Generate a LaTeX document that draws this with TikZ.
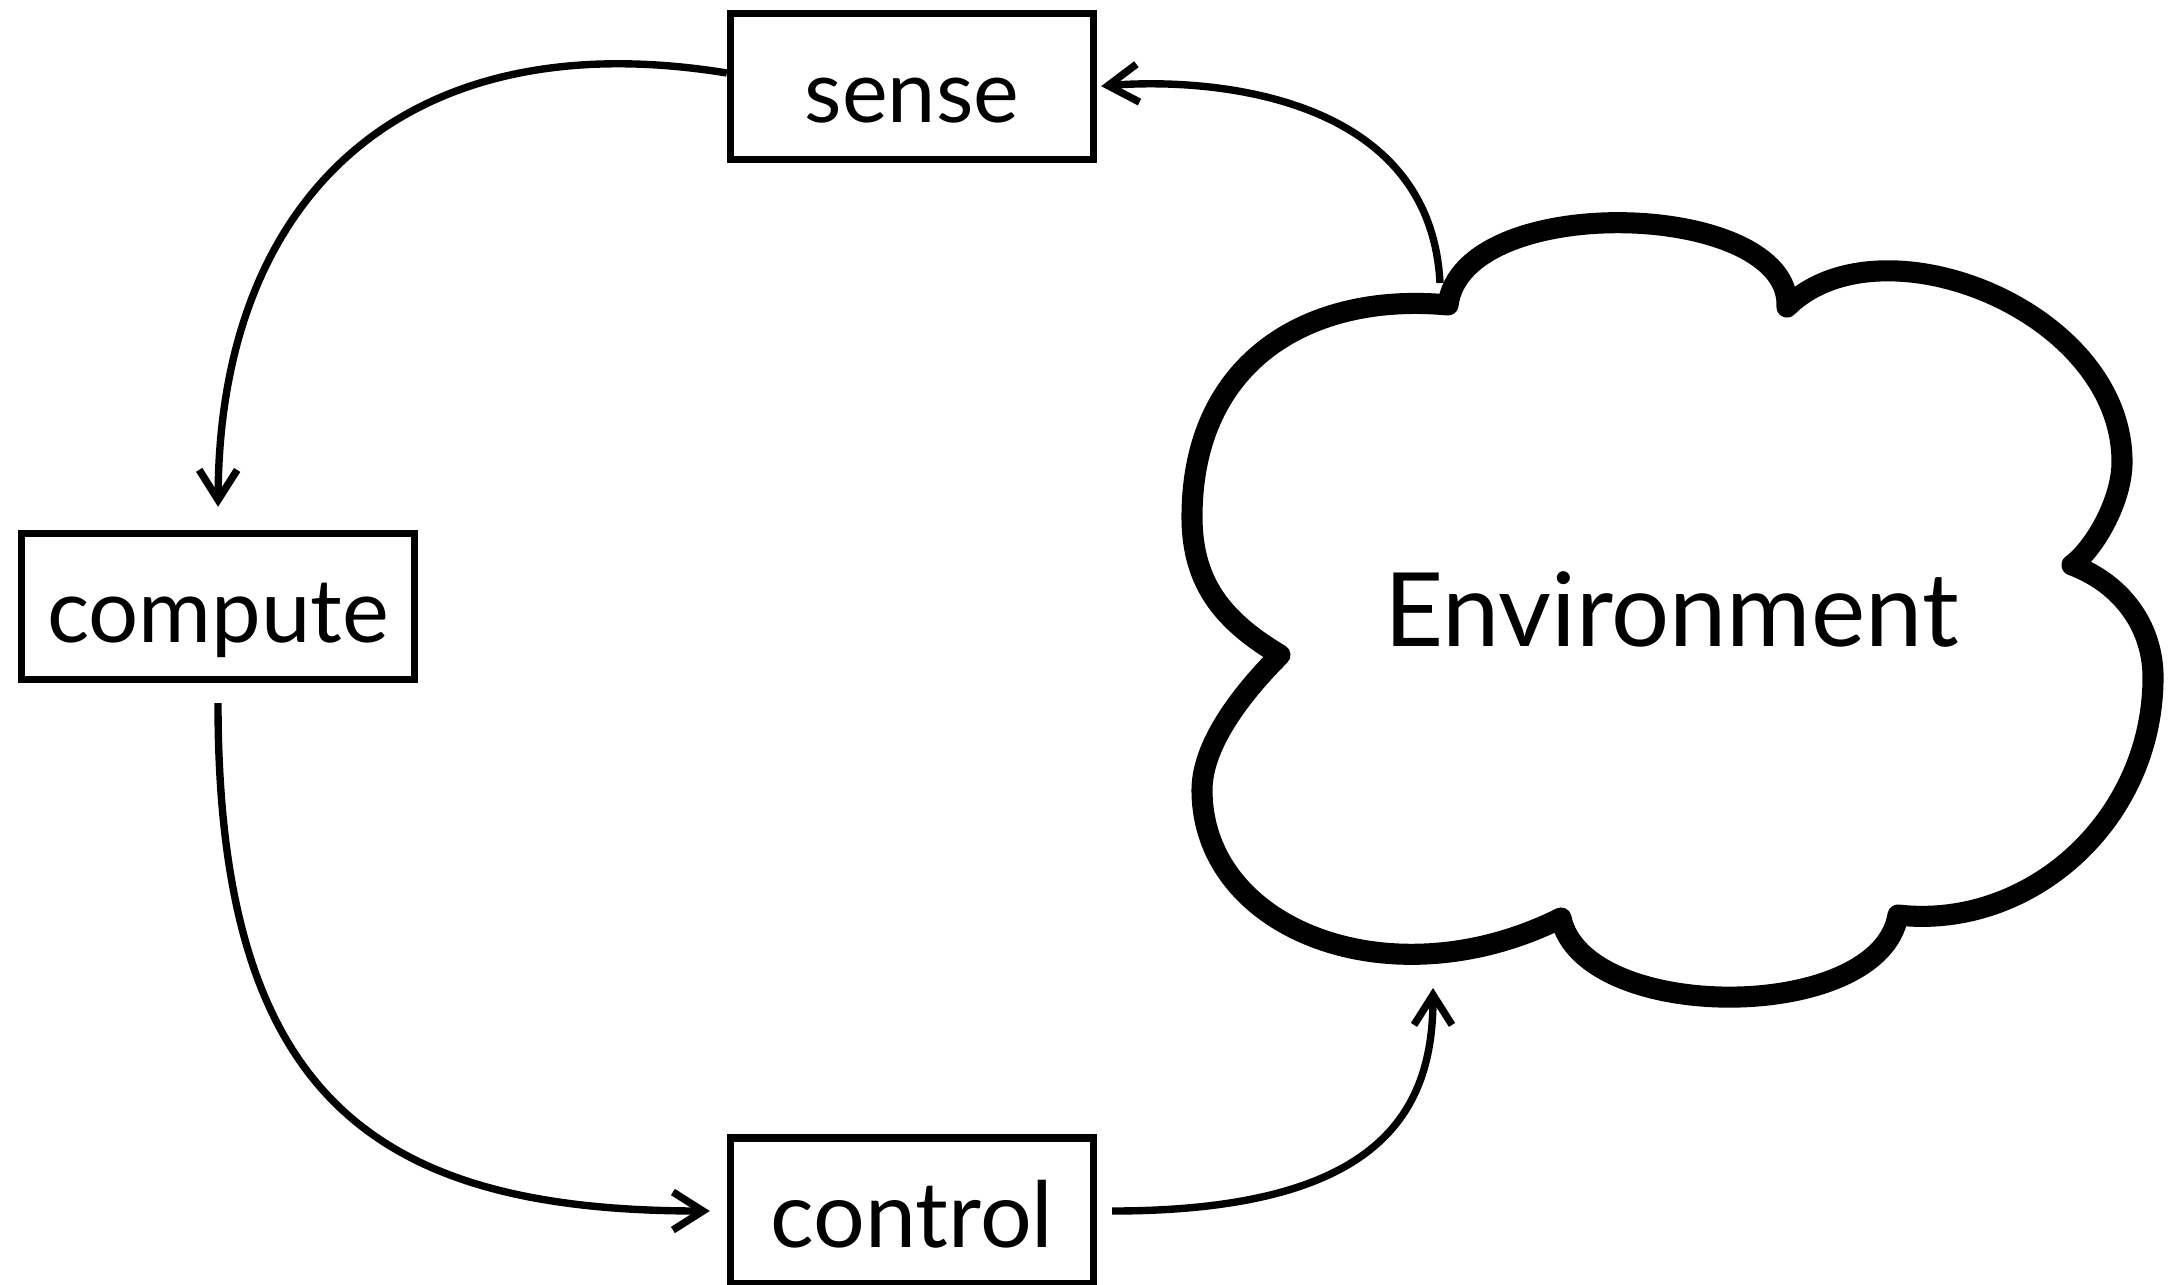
\documentclass[tikz,border=0pt]{standalone}
\usepackage{fontspec}
\setmainfont{Lato}
\usetikzlibrary{positioning,arrows.meta}

\tikzset{
  stage/.style={draw=black,line width=2.1pt,minimum width=3.63cm,minimum height=1.46cm,text height=0.9cm,text depth=0.18cm,inner sep=0pt},
  flow/.style={line width=2.1pt,-{Straight Barb[length=0.3cm,width=0.38cm]}},
}

\begin{document}
\begin{tikzpicture}
	\useasboundingbox (0,0) rectangle (21.71,-12.85);
	\node[stage] (sense) at (9.12,-0.865) {\fontsize{24.6}{27}\selectfont sense};
	\node[stage,minimum width=3.93cm] (compute) at (2.18,-6.065) {\fontsize{25.2}{27}\selectfont compute};
	\node[stage] (control) at (9.12,-12.11) {\fontsize{26}{28}\selectfont control};
	
	% the environment cloud
	\draw[line width=6pt,line join=round] (14.48,-3.05)
		.. controls (14.62,-1.90) and (17.92,-2.00) .. (17.87,-3.07)
		.. controls (18.80,-2.15) and (21.22,-3.10) .. (21.22,-4.62)
		.. controls (21.22,-5.00) and (20.95,-5.48) .. (20.72,-5.65)
		.. controls (21.25,-5.85) and (21.53,-6.30) .. (21.53,-6.77)
		.. controls (21.53,-8.20) and (20.30,-9.30) .. (18.98,-9.15)
		.. controls (18.80,-10.24) and (15.83,-10.24) .. (15.61,-9.18)
		.. controls (13.91,-10.03) and (12.02,-9.30) .. (12.02,-7.90)
		.. controls (12.02,-7.40) and (12.50,-6.85) .. (12.80,-6.55)
		.. controls (12.25,-6.22) and (11.92,-5.85) .. (11.92,-5.17)
		.. controls (11.92,-3.60) and (13.10,-2.92) .. (14.48,-3.05) -- cycle;
	\node[anchor=base] (env) at (16.715,-6.46) {\fontsize{29.2}{31}\selectfont Environment};
	\coordinate (envtop) at (14.40,-2.83);
	\coordinate (envbot) at (14.33,-9.88);
	
	\draw[flow,shorten >=0.23cm] ([yshift=0.135cm]sense.west) .. controls +(-3.26,0.53) and +(0.01,3.3) .. (compute.north);
	\draw[flow,shorten <=0.2cm,shorten >=0.17cm] (compute.south) .. controls +(0,-4.17) and +(-3.49,0) .. (control.west);
	\draw[flow,shorten <=0.15cm] (control.east) .. controls +(2.85,0) and +(0,-1.22) .. (envbot);
	\draw[flow,shorten >=0.04cm] (envtop) .. controls +(-0.1,1.93) and +(1.04,0.085) .. (sense.east);
\end{tikzpicture}
\end{document}
